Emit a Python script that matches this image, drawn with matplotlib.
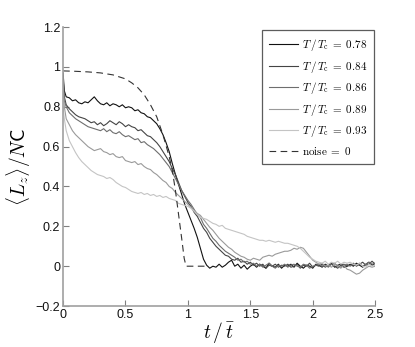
import numpy as np
import matplotlib
matplotlib.use("Agg")
import matplotlib.pyplot as plt

plt.rcParams['mathtext.fontset'] = 'cm'
plt.rcParams['font.family'] = ['Liberation Sans', 'DejaVu Sans']

# ---- data ----
t = np.concatenate([[0.0, 0.01, 0.025], np.round(np.arange(0.05, 2.5001, 0.025), 3)])

L078 = [0.97, 0.88, 0.85,
        0.845, 0.83, 0.835, 0.82, 0.815, 0.825, 0.82, 0.835, 0.85, 0.83,
        0.815, 0.81, 0.82, 0.805, 0.815, 0.81, 0.80, 0.81, 0.795, 0.80,
        0.795, 0.78, 0.785, 0.77, 0.765, 0.75, 0.745, 0.73, 0.715, 0.69,
        0.66, 0.62, 0.575, 0.515, 0.46, 0.41, 0.36, 0.31, 0.27, 0.23,
        0.19, 0.145, 0.09, 0.035, 0.005, -0.01, 0.0, -0.005, 0.01, -0.005,
        0.005, 0.02, 0.03, 0.0, 0.01, -0.01, 0.005, -0.015, 0.0, 0.01,
        -0.005, 0.01, 0.0, -0.01, 0.015, 0.0, -0.005, 0.01, -0.01, 0.005,
        0.0, 0.01, -0.005, 0.015, 0.0, -0.01, 0.005, 0.0, -0.01, 0.01,
        0.005, -0.005, 0.01, 0.0, 0.015, -0.005, 0.005, 0.01, -0.005, 0.0,
        0.01, 0.0, 0.015, 0.005, -0.005, 0.01, 0.02, 0.005, 0.015]

L084 = [0.95, 0.85, 0.81,
        0.79, 0.775, 0.76, 0.75, 0.745, 0.74, 0.73, 0.72, 0.725, 0.71,
        0.72, 0.705, 0.715, 0.73, 0.72, 0.71, 0.725, 0.715, 0.70, 0.71,
        0.70, 0.695, 0.68, 0.685, 0.67, 0.655, 0.65, 0.635, 0.62, 0.60,
        0.575, 0.55, 0.525, 0.49, 0.46, 0.42, 0.38, 0.35, 0.32, 0.30,
        0.27, 0.25, 0.22, 0.19, 0.17, 0.14, 0.12, 0.10, 0.085, 0.07,
        0.055, 0.05, 0.035, 0.03, 0.04, 0.02, 0.025, 0.01, 0.02, 0.005,
        0.015, 0.0, 0.01, -0.01, 0.005, 0.0, 0.01, -0.005, 0.005, 0.0,
        0.01, -0.005, 0.0, 0.01, -0.01, 0.005, 0.0, 0.015, -0.005, 0.005,
        0.0, 0.01, -0.005, 0.005, 0.01, 0.0, -0.01, 0.005, 0.01, 0.0,
        0.005, 0.015, 0.0, 0.01, 0.02, 0.005, 0.01, 0.025, 0.01]

L086 = [0.93, 0.83, 0.80,
        0.77, 0.755, 0.74, 0.73, 0.72, 0.71, 0.70, 0.695, 0.69, 0.685,
        0.68, 0.69, 0.675, 0.685, 0.67, 0.665, 0.675, 0.66, 0.65, 0.655,
        0.645, 0.635, 0.64, 0.62, 0.625, 0.61, 0.60, 0.59, 0.575, 0.56,
        0.54, 0.52, 0.50, 0.47, 0.44, 0.41, 0.38, 0.355, 0.33, 0.31,
        0.285, 0.26, 0.245, 0.21, 0.19, 0.165, 0.14, 0.125, 0.105, 0.09,
        0.075, 0.065, 0.055, 0.045, 0.03, 0.035, 0.02, 0.025, 0.01, 0.015,
        0.0, 0.01, -0.005, 0.005, 0.015, 0.0, -0.01, 0.005, 0.0, 0.01,
        -0.005, 0.005, 0.01, 0.0, -0.005, 0.01, 0.005, -0.01, 0.0, 0.005,
        0.01, 0.0, 0.005, -0.005, 0.01, 0.015, 0.0, -0.005, 0.005, 0.01,
        0.0, 0.01, 0.005, 0.015, 0.0, 0.01, 0.02, 0.01, 0.015]

L089 = [0.90, 0.80, 0.74,
        0.71, 0.68, 0.66, 0.645, 0.63, 0.615, 0.60, 0.59, 0.58, 0.585,
        0.59, 0.575, 0.57, 0.56, 0.565, 0.55, 0.545, 0.55, 0.53, 0.525,
        0.52, 0.525, 0.51, 0.515, 0.50, 0.49, 0.485, 0.47, 0.46, 0.445,
        0.43, 0.42, 0.40, 0.39, 0.37, 0.355, 0.34, 0.325, 0.31, 0.295,
        0.28, 0.265, 0.255, 0.235, 0.215, 0.195, 0.18, 0.16, 0.14, 0.125,
        0.11, 0.095, 0.085, 0.07, 0.06, 0.05, 0.045, 0.035, 0.03, 0.04,
        0.035, 0.03, 0.045, 0.05, 0.055, 0.05, 0.06, 0.065, 0.07, 0.075,
        0.075, 0.08, 0.09, 0.085, 0.095, 0.09, 0.07, 0.05, 0.03, 0.02,
        0.01, 0.015, 0.0, 0.005, -0.005, 0.01, 0.0, -0.01, 0.005, -0.015,
        -0.02, -0.03, -0.04, -0.035, -0.02, -0.01, 0.0, -0.005, 0.0]

L093 = [0.80, 0.74, 0.68,
        0.63, 0.60, 0.57, 0.545, 0.525, 0.51, 0.495, 0.48, 0.47, 0.46,
        0.455, 0.45, 0.44, 0.445, 0.435, 0.42, 0.41, 0.40, 0.395, 0.385,
        0.375, 0.37, 0.365, 0.37, 0.36, 0.365, 0.355, 0.36, 0.35, 0.355,
        0.345, 0.35, 0.34, 0.335, 0.33, 0.315, 0.31, 0.305, 0.30, 0.29,
        0.275, 0.26, 0.245, 0.24, 0.235, 0.225, 0.215, 0.21, 0.20, 0.205,
        0.19, 0.185, 0.18, 0.175, 0.17, 0.165, 0.16, 0.15, 0.145, 0.14,
        0.135, 0.13, 0.13, 0.125, 0.13, 0.125, 0.12, 0.125, 0.12, 0.115,
        0.115, 0.11, 0.105, 0.10, 0.09, 0.075, 0.06, 0.045, 0.035, 0.025,
        0.02, 0.015, 0.025, 0.01, 0.02, 0.015, 0.025, 0.01, 0.02, 0.015,
        0.02, 0.01, 0.005, 0.015, 0.0, -0.005, 0.01, 0.0, 0.005]

t_noise0 = [0.0, 0.1, 0.2, 0.3, 0.4, 0.5, 0.55, 0.6, 0.65, 0.7, 0.75, 0.8,
            0.85, 0.875, 0.9, 0.925, 0.95, 0.97, 0.985, 1.15]
L_noise0 = [0.98, 0.978, 0.975, 0.97, 0.96, 0.94, 0.92, 0.895, 0.86, 0.81, 0.75, 0.66,
            0.55, 0.48, 0.38, 0.26, 0.14, 0.04, 0.0, 0.0]

series = [("0.78", L078), ("0.84", L084), ("0.86", L086), ("0.89", L089), ("0.93", L093)]
colors = ["#111111", "#444444", "#6e6e6e", "#9a9a9a", "#c4c4c4"]

xticks = [0, 0.5, 1, 1.5, 2, 2.5]
xticklabels = ["0", "0.5", "1", "1.5", "2", "2.5"]
yticks = [-0.2, 0, 0.2, 0.4, 0.6, 0.8, 1.0, 1.2]
yticklabels = ["\u22120.2", "0", "0.2", "0.4", "0.6", "0.8", "1", "1.2"]

# ---- plot ----
fig = plt.figure(figsize=(4.15, 3.47), dpi=100)
ax = fig.add_axes([0.152, 0.118, 0.752, 0.804])

for (lab, vals), c in zip(series, colors):
    ax.plot(t, vals, color=c, lw=0.8, label=r"$T\,/\,T_\mathrm{c}\;=\;%s$" % lab)
ax.plot(t_noise0, L_noise0, color="#333333", lw=0.8, ls=(0, (6, 4)),
        label=r"$\mathrm{noise}\;=\;0$")

ax.set_xlim(0, 2.5)
ax.set_ylim(-0.2, 1.2)
ax.set_xticks(xticks)
ax.set_xticklabels(xticklabels)
ax.set_yticks(yticks)
ax.set_yticklabels(yticklabels)

for s in ["top", "right"]:
    ax.spines[s].set_visible(False)
for s in ["left", "bottom"]:
    ax.spines[s].set_color("#a0a0a0")
    ax.spines[s].set_linewidth(1.2)
ax.tick_params(direction="in", length=4, width=0.8, color="#808080",
               labelsize=9, labelcolor="#111111", pad=2)

ax.set_xlabel(r"$t\,/\,\bar{t}$", fontsize=14, labelpad=0)
ax.set_ylabel(r"$\langle L_z\rangle/N\mathsf{C}$", fontsize=14, labelpad=2)

leg = ax.legend(loc="upper right", bbox_to_anchor=(0.997, 0.988), fontsize=8,
                frameon=True, fancybox=False, edgecolor="#333333",
                handlelength=2.6, labelspacing=0.5, borderpad=0.6,
                handletextpad=0.4, borderaxespad=0.0)
leg.get_frame().set_linewidth(0.9)

fig.savefig("out.png", dpi=100)
